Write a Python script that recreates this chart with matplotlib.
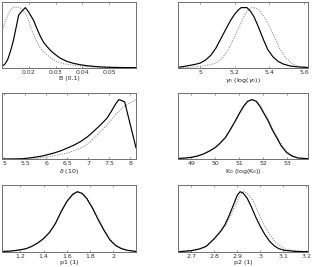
import matplotlib
matplotlib.use("Agg")
import matplotlib.pyplot as plt

# ---- data ----
b_solid_x = [0.010, 0.0111, 0.0121, 0.0132, 0.0143, 0.0153, 0.0162, 0.0174, 0.0187, 0.0199, 0.0208, 0.0218, 0.0230,
             0.0243, 0.0255, 0.0268, 0.028, 0.0292, 0.0305, 0.0317, 0.033, 0.0342, 0.0367, 0.0392, 0.0416, 0.0441,
             0.047, 0.0503, 0.055, 0.060]
b_solid_y = [0.025, 0.06, 0.125, 0.26, 0.425, 0.62, 0.80, 0.86, 0.915, 0.85, 0.79, 0.72, 0.60,
             0.48, 0.39, 0.325, 0.27, 0.225, 0.185, 0.15, 0.125, 0.10, 0.07, 0.05, 0.035, 0.025,
             0.016, 0.01, 0.007, 0.005]
b_dot_x = [0.010, 0.0109, 0.0119, 0.0128, 0.0137, 0.0146, 0.0156, 0.0168, 0.0177, 0.0187, 0.0196, 0.0205, 0.0214,
           0.0224, 0.0233, 0.0243, 0.0255, 0.0268, 0.028, 0.0292, 0.031, 0.033, 0.0355, 0.0379, 0.041, 0.0441,
           0.050, 0.060]
b_dot_y = [0.55, 0.67, 0.775, 0.85, 0.90, 0.92, 0.925, 0.915, 0.88, 0.825, 0.75, 0.65, 0.55,
           0.45, 0.37, 0.30, 0.245, 0.20, 0.16, 0.125, 0.09, 0.065, 0.047, 0.035, 0.024, 0.015,
           0.009, 0.005]

g_solid_x = [4.871, 4.92, 4.97, 5.0, 5.03, 5.06, 5.09, 5.12, 5.15, 5.175, 5.20, 5.22, 5.237, 5.27, 5.29, 5.31,
             5.33, 5.35, 5.37, 5.39, 5.42, 5.45, 5.48, 5.52, 5.57, 5.623]
g_solid_y = [0.01, 0.03, 0.055, 0.075, 0.12, 0.19, 0.30, 0.45, 0.60, 0.72, 0.82, 0.88, 0.915, 0.915, 0.86, 0.78,
             0.66, 0.53, 0.40, 0.28, 0.17, 0.10, 0.06, 0.03, 0.015, 0.008]
g_dot_x = [4.871, 4.95, 5.0, 5.05, 5.09, 5.12, 5.15, 5.18, 5.21, 5.235, 5.26, 5.28, 5.30, 5.32, 5.34, 5.36,
           5.38, 5.40, 5.42, 5.44, 5.46, 5.49, 5.52, 5.55, 5.58, 5.623]
g_dot_y = [0.005, 0.012, 0.025, 0.045, 0.075, 0.13, 0.225, 0.37, 0.54, 0.68, 0.82, 0.885, 0.915, 0.91, 0.88, 0.81,
           0.73, 0.63, 0.52, 0.40, 0.29, 0.17, 0.09, 0.04, 0.02, 0.005]

d_solid_x = [4.944, 5.2, 5.46, 5.65, 5.86, 6.0, 6.18, 6.35, 6.5, 6.66, 6.82, 6.98, 7.13, 7.3, 7.45, 7.55,
             7.65, 7.73, 7.80, 7.87, 8.14]
d_solid_y = [0.0, 0.001, 0.005, 0.02, 0.04, 0.06, 0.09, 0.125, 0.165, 0.21, 0.265, 0.335, 0.42, 0.52, 0.62, 0.72,
             0.83, 0.90, 0.885, 0.865, 0.17]
d_dot_x = [5.5, 5.7, 5.9, 6.1, 6.3, 6.5, 6.7, 6.9, 7.05, 7.22, 7.35, 7.45, 7.57, 7.69, 7.81, 7.93, 8.04, 8.14]
d_dot_y = [0.0, 0.005, 0.02, 0.04, 0.065, 0.09, 0.135, 0.19, 0.26, 0.37, 0.45, 0.52, 0.61, 0.70, 0.77, 0.825,
           0.865, 0.90]

k_solid_x = [48.44, 48.75, 49.0, 49.25, 49.5, 49.75, 50.0, 50.2, 50.42, 50.6, 50.83, 51.0, 51.18, 51.35, 51.53,
             51.7, 51.86, 52.03, 52.21, 52.38, 52.56, 52.75, 52.97, 53.2, 53.45, 53.87]
k_solid_y = [0.008, 0.015, 0.025, 0.045, 0.075, 0.12, 0.175, 0.24, 0.325, 0.43, 0.575, 0.69, 0.80, 0.875, 0.90,
             0.875, 0.80, 0.69, 0.575, 0.44, 0.325, 0.20, 0.10, 0.045, 0.015, 0.005]
k_dot_x = [48.44, 48.75, 49.0, 49.25, 49.5, 49.75, 50.0, 50.2, 50.42, 50.6, 50.84, 51.02, 51.21, 51.39, 51.57,
           51.74, 51.9, 52.07, 52.25, 52.42, 52.6, 52.79, 53.01, 53.24, 53.49, 53.87]
k_dot_y = k_solid_y

p1_solid_x = [1.043, 1.10, 1.15, 1.20, 1.25, 1.30, 1.35, 1.40, 1.45, 1.50, 1.55, 1.60, 1.65, 1.69, 1.73, 1.77,
              1.82, 1.87, 1.92, 1.97, 2.02, 2.07, 2.12, 2.194]
p1_solid_y = [0.008, 0.012, 0.02, 0.033, 0.05, 0.085, 0.135, 0.20, 0.29, 0.42, 0.60, 0.755, 0.86, 0.90, 0.875, 0.80,
              0.655, 0.48, 0.32, 0.18, 0.095, 0.05, 0.025, 0.008]
p1_dot_x = [1.043, 1.10, 1.15, 1.20, 1.25, 1.30, 1.35, 1.40, 1.45, 1.503, 1.553, 1.604, 1.654, 1.694, 1.735, 1.775,
            1.826, 1.876, 1.926, 1.975, 2.025, 2.073, 2.122, 2.194]
p1_dot_y = p1_solid_y

p2_solid_x = [2.642, 2.70, 2.735, 2.765, 2.80, 2.825, 2.845, 2.865, 2.885, 2.90, 2.912, 2.925, 2.943, 2.96, 2.98,
              3.0, 3.019, 3.04, 3.061, 3.08, 3.104, 3.15, 3.207]
p2_solid_y = [0.004, 0.02, 0.045, 0.085, 0.20, 0.30, 0.40, 0.55, 0.72, 0.85, 0.90, 0.88, 0.80, 0.68, 0.52,
              0.38, 0.265, 0.16, 0.09, 0.05, 0.025, 0.01, 0.004]
p2_dot_x = [2.642, 2.70, 2.735, 2.765, 2.80, 2.827, 2.85, 2.872, 2.895, 2.912, 2.926, 2.942, 2.962, 2.98, 3.0,
            3.02, 3.04, 3.062, 3.085, 3.105, 3.13, 3.17, 3.207]
p2_dot_y = [0.004, 0.02, 0.045, 0.085, 0.20, 0.30, 0.40, 0.55, 0.72, 0.85, 0.90, 0.88, 0.80, 0.68, 0.52,
            0.38, 0.265, 0.16, 0.09, 0.05, 0.025, 0.01, 0.004]

panels = [
    dict(sx=b_solid_x, sy=b_solid_y, dx=b_dot_x, dy=b_dot_y, xlim=(0.01, 0.06),
         ticks=[0.02, 0.03, 0.04, 0.05], labels=['0.02', '0.03', '0.04', '0.05'], xlabel='B (0.1)'),
    dict(sx=g_solid_x, sy=g_solid_y, dx=g_dot_x, dy=g_dot_y, xlim=(4.871, 5.623),
         ticks=[5.0, 5.2, 5.4, 5.6], labels=['5', '5.2', '5.4', '5.6'], xlabel=r'$\gamma_0$ (log($\gamma_0$))'),
    dict(sx=d_solid_x, sy=d_solid_y, dx=d_dot_x, dy=d_dot_y, xlim=(4.944, 8.14),
         ticks=[5, 5.5, 6, 6.5, 7, 7.5, 8], labels=['5', '5.5', '6', '6.5', '7', '7.5', '8'], xlabel=r'$\delta$ (10)'),
    dict(sx=k_solid_x, sy=k_solid_y, dx=k_dot_x, dy=k_dot_y, xlim=(48.44, 53.87),
         ticks=[49, 50, 51, 52, 53], labels=['49', '50', '51', '52', '53'], xlabel=r'K$_0$ (log(K$_0$))'),
    dict(sx=p1_solid_x, sy=p1_solid_y, dx=p1_dot_x, dy=p1_dot_y, xlim=(1.043, 2.194),
         ticks=[1.2, 1.4, 1.6, 1.8, 2.0], labels=['1.2', '1.4', '1.6', '1.8', '2'], xlabel='p1 (1)'),
    dict(sx=p2_solid_x, sy=p2_solid_y, dx=p2_dot_x, dy=p2_dot_y, xlim=(2.642, 3.207),
         ticks=[2.7, 2.8, 2.9, 3.0, 3.1, 3.2], labels=['2.7', '2.8', '2.9', '3', '3.1', '3.2'], xlabel='p2 (1)'),
]

W, H = 316, 267
fig = plt.figure(figsize=(W / 100, H / 100), dpi=100)
cols = [(2, 134), (178, 130)]
rows = [(2, 68), (93, 159), (185, 252)]
frame_col = '#707070'

for i, p in enumerate(panels):
    r, c = divmod(i, 2)
    x0, w = cols[c]
    top, bot = rows[r]
    ax = fig.add_axes([x0 / W, 1 - bot / H, w / W, (bot - top) / H])
    ax.plot(p['dx'], p['dy'], color='#909090', lw=0.8, ls=(0, (1, 1.2)))
    ax.plot(p['sx'], p['sy'], color='black', lw=0.85)
    ax.set_xlim(*p['xlim'])
    ax.set_ylim(0, 1)
    ax.set_yticks([])
    ax.set_xticks(p['ticks'])
    ax.set_xticklabels(p['labels'])
    ax.tick_params(axis='x', direction='in', top=True, length=1.5, width=0.5,
                   labelsize=4.5, pad=1.5, colors='#333333')
    ax.tick_params(axis='x', color=frame_col)
    for s in ax.spines.values():
        s.set_color(frame_col)
        s.set_linewidth(0.7)
    ax.set_xlabel(p['xlabel'], fontsize=4.5, labelpad=0.5, color='#222222')

fig.savefig('out.png', dpi=100)
